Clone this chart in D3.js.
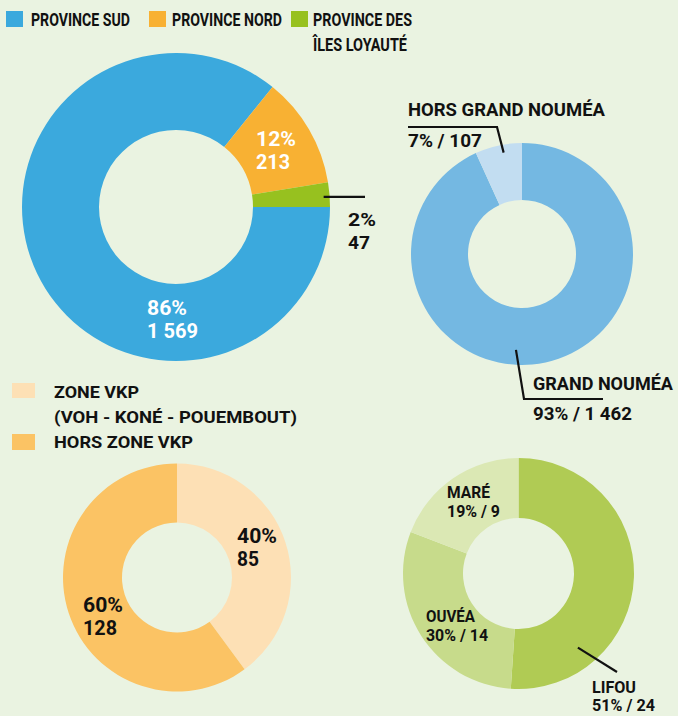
<!DOCTYPE html>
<html><head><meta charset="utf-8">
<script src="https://cdn.jsdelivr.net/npm/d3@7"></script>
<style>body{margin:0;background:#eaf3e1}svg{display:block}</style>
</head><body>
<svg id="c" width="678" height="716"></svg>
<script>
// ---- data ----
const provinces = ["PROVINCE SUD", "PROVINCE NORD", "PROVINCE DES ÎLES LOYAUTÉ"];
const provinceValues = [1569, 213, 47];
const provincePct = [86, 12, 2];
const provinceColors = ["#3ba9dd", "#f8b133", "#97c11f"];

const sudZones = ["GRAND NOUMÉA", "HORS GRAND NOUMÉA"];
const sudValues = [1462, 107];
const sudPct = [93, 7];
const sudColors = ["#74b8e2", "#c2ddf1"];

const nordZones = ["ZONE VKP", "HORS ZONE VKP"];
const nordLegend = [["ZONE VKP", "(VOH - KONÉ - POUEMBOUT)"], ["HORS ZONE VKP"]];
const nordValues = [85, 128];
const nordPct = [40, 60];
const nordColors = ["#fde0b5", "#fbc364"];

const ilesZones = ["LIFOU", "OUVÉA", "MARÉ"];
const ilesValues = [24, 14, 9];
const ilesPct = [51, 30, 19];
const ilesColors = ["#b0cb54", "#c7db8b", "#dbe8b4"];

// ---- helpers ----
const svg = d3.select("#c");
svg.append("rect").attr("width", 678).attr("height", 716).attr("fill", "#eaf3e1");
const FONT = "Roboto, 'DejaVu Sans', sans-serif";
const nf = d3.formatLocale({decimal: ",", thousands: " ", grouping: [3], currency: ["", ""]}).format(",d");

// text fitted to a target width
function T(x, y, str, size, w, color) {
  svg.append("text")
    .attr("x", x).attr("y", y)
    .attr("font-family", FONT).attr("font-weight", 700)
    .attr("font-size", size).attr("fill", color || "#111")
    .attr("textLength", w).attr("lengthAdjust", "spacingAndGlyphs")
    .text(str);
}

function donut(cx, cy, r0, r1, values, colors, start) {
  const g = svg.append("g").attr("transform", `translate(${cx},${cy})`);
  const pie = d3.pie().sort(null).value(d => d).startAngle(start).endAngle(start + 2 * Math.PI);
  const arcs = pie(values);
  const arc = d3.arc().innerRadius(r0).outerRadius(r1);
  g.selectAll("path").data(arcs).join("path").attr("d", arc).attr("fill", (d, i) => colors[i]);
  return {g, arcs};
}
function polar(cx, cy, r, a) { return [cx + r * Math.sin(a), cy - r * Math.cos(a)]; }
function line(pts) {
  svg.append("path").attr("d", d3.line()(pts)).attr("fill", "none")
    .attr("stroke", "#111").attr("stroke-width", 2.2);
}

// ---- top legend ----
const legendX = [6, 149, 291];
provinces.forEach((p, i) => {
  svg.append("rect").attr("x", legendX[i]).attr("y", 11).attr("width", 17).attr("height", 16).attr("fill", provinceColors[i]);
});
T(31, 26, "PROVINCE SUD", 19, 99);
T(172, 26, "PROVINCE NORD", 19, 110);
T(313, 26, "PROVINCE DES", 19, 99);
T(313, 51, "ÎLES LOYAUTÉ", 19, 94);

// ---- main donut (provinces) ----
const P = {cx: 176, cy: 207, r0: 77, r1: 154};
const main = donut(P.cx, P.cy, P.r0, P.r1, provinceValues, provinceColors, Math.PI / 2);
T(147, 315, provincePct[0] + "%", 20, 40, "#fff");
T(147, 338, nf(provinceValues[0]), 20, 51, "#fff");
T(256, 146, provincePct[1] + "%", 20, 40, "#fff");
T(256, 169, nf(provinceValues[1]), 20, 34, "#fff");
{
  const a = main.arcs[2], mid = (a.startAngle + a.endAngle) / 2;
  const p0 = polar(P.cx, P.cy, P.r1 - 6, mid + 0.012);
  line([p0, [365, p0[1]]]);
}
T(348, 226, provincePct[2] + "%", 19, 28);
T(348, 249, nf(provinceValues[2]), 19, 22);

// ---- Province Sud donut ----
const S = {cx: 522, cy: 254, r0: 54, r1: 111};
const sud = donut(S.cx, S.cy, S.r0, S.r1, sudValues, sudColors, 0);
{
  const a = sud.arcs[1], mid = (a.startAngle + a.endAngle) / 2 + 0.035;
  const p0 = polar(S.cx, S.cy, S.r1 - 8, mid);
  line([p0, [497, 127], [408, 127]]);
  const p1 = polar(S.cx, S.cy, 96, Math.PI + 0.063);
  line([p1, [524, 399], [603, 399]]);
}
T(408, 116, sudZones[1], 18, 197);
T(408, 147, sudPct[1] + "% / " + nf(sudValues[1]), 19, 74);
T(533, 390, sudZones[0], 18, 140);
T(533, 420, sudPct[0] + "% / " + nf(sudValues[0]), 19, 99);

// ---- Province Nord legend + donut ----
svg.append("rect").attr("x", 12).attr("y", 383).attr("width", 23).attr("height", 15).attr("fill", nordColors[0]);
svg.append("rect").attr("x", 12).attr("y", 434).attr("width", 23).attr("height", 16).attr("fill", nordColors[1]);
T(54, 398, nordLegend[0][0], 16.5, 85);
T(54, 423, nordLegend[0][1], 16.5, 243);
T(54, 448, nordLegend[1][0], 16.5, 139);

const N = {cx: 177, cy: 577.5, r0: 55, r1: 114};
donut(N.cx, N.cy, N.r0, N.r1, nordValues, nordColors, 0);
T(237, 543, nordPct[0] + "%", 20, 40);
T(237, 566, nf(nordValues[0]), 20, 22);
T(83, 612, nordPct[1] + "%", 20, 40);
T(83, 635, nf(nordValues[1]), 20, 34);

// ---- Îles Loyauté donut ----
const I = {cx: 518.5, cy: 573.5, r0: 55.5, r1: 115.5};
donut(I.cx, I.cy, I.r0, I.r1, ilesValues, ilesColors, 0);
{
  const p0 = polar(I.cx, I.cy, 95, Math.PI * 0.785);
  line([p0, [617, 672]]);
}
T(447, 498, ilesZones[2], 16, 43);
T(447, 517, ilesPct[2] + "% / " + nf(ilesValues[2]), 16, 53);
T(426, 622, ilesZones[1], 16, 49);
T(426, 641, ilesPct[1] + "% / " + nf(ilesValues[1]), 16, 62);
T(592, 693, ilesZones[0], 16, 44);
T(592, 711, ilesPct[0] + "% / " + nf(ilesValues[0]), 16, 63);
</script>
</body></html>
